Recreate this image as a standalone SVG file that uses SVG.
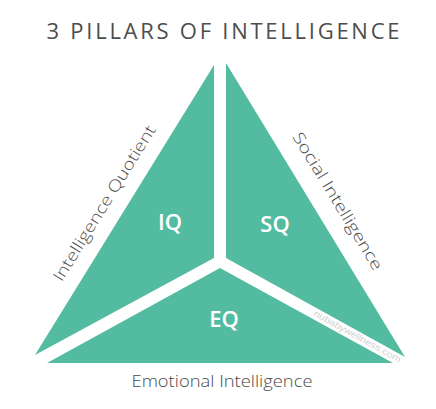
<svg xmlns="http://www.w3.org/2000/svg" width="436" height="409" viewBox="0 0 436 409">
<style>
.piece{fill:#53bb9f}
.lbl{font-family:"Open Sans","Liberation Sans",sans-serif;font-weight:300;fill:#4a4a4a}
.q{font-family:"Open Sans","Liberation Sans",sans-serif;font-weight:600;fill:#ffffff;font-size:22px;text-anchor:middle}
</style>
<rect width="436" height="409" fill="#ffffff"/>
<text x="223" y="39" text-anchor="middle" font-family="'Open Sans','Liberation Sans',sans-serif" font-weight="500" font-size="22" fill="#4d4d4d" textLength="353" lengthAdjust="spacing">3 PILLARS OF INTELLIGENCE</text>
<g id="iq">
<polygon class="piece" points="214,65 214,258 35,355"/>
<text class="q" x="170" y="230">IQ</text>
</g>
<g id="sq">
<polygon class="piece" points="226,63 405,357 226,258"/>
<text class="q" x="275" y="232">SQ</text>
</g>
<g id="eq">
<polygon class="piece" points="220,268 393,363 47,363"/>
<text class="q" x="224" y="327">EQ</text>
</g>
<g id="labels">
<text class="lbl" font-size="16" text-anchor="middle" transform="translate(109,206) rotate(-58.3)" textLength="180" lengthAdjust="spacingAndGlyphs">Intelligence Quotient</text>
<text class="lbl" font-size="16" text-anchor="middle" transform="translate(333,204) rotate(58.7)" textLength="158" lengthAdjust="spacingAndGlyphs">Social Intelligence</text>
<text class="lbl" font-size="17" text-anchor="middle" x="222" y="387" textLength="181" lengthAdjust="spacingAndGlyphs">Emotional Intelligence</text>
<text font-family="'Liberation Sans',sans-serif" font-size="9" fill="#d0d0d0" text-anchor="middle" transform="translate(356,339) rotate(29)" textLength="98" lengthAdjust="spacingAndGlyphs">nubabywellness.com</text>
</g>
</svg>
